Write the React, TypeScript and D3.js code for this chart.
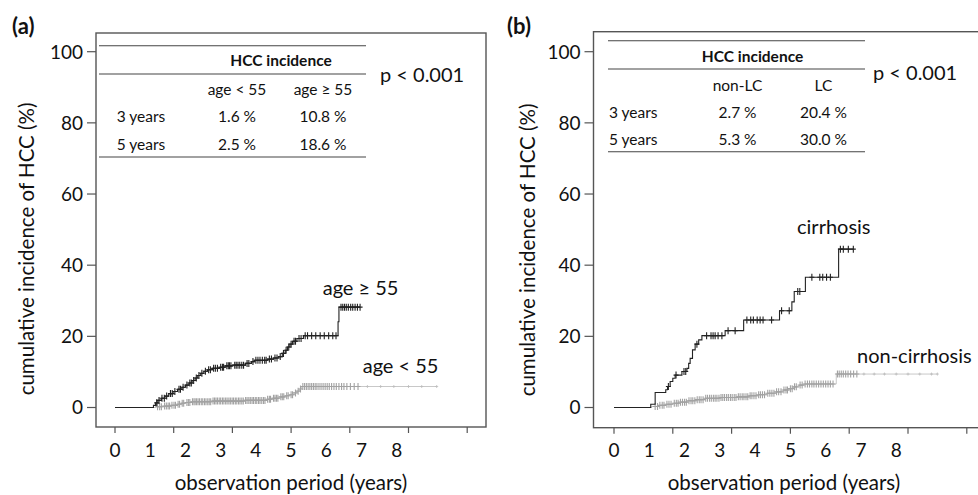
import React from 'react';
import * as d3 from 'd3';

// ---------- data ----------
const yearLabels = [0, 1, 2, 3, 4, 5, 6, 7, 8]; // years, placed at month 12*k
const monthTicks = [0, 20, 40, 60, 80, 100, 120];
const yTicks = [0, 20, 40, 60, 80, 100];

// Kaplan-Meier steps [month, cumulative %]
const ageOldSteps: [number, number][] = [
  [13.1, 0.6], [13.8, 1.3], [14.6, 2.0], [15.8, 2.6], [17.0, 3.2], [18.3, 3.9], [19.8, 4.5],
  [21.3, 5.1], [22.8, 5.7], [24.0, 6.3], [25.2, 6.9], [26.3, 7.6], [27.3, 8.3], [28.2, 9.0],
  [29.2, 9.6], [30.3, 10.2], [31.5, 10.6], [33.2, 11.0], [35.5, 11.3], [37.5, 11.7], [40.0, 11.9],
  [44.5, 12.4], [46.5, 12.9], [47.5, 13.3], [52.0, 13.6], [54.0, 13.9], [55.8, 14.3], [57.0, 15.2],
  [58.0, 16.1], [58.8, 17.0], [59.6, 17.8], [60.5, 18.6], [62.0, 19.4], [64.2, 20.2], [76.0, 24.1],
  [76.3, 28.2],
];
const ageOldEnd = 83.5;
const ageOldCensor = [
  14.2, 15.0, 16.0, 16.8, 17.6, 18.9, 19.5, 20.4, 21.8, 22.3, 23.2, 24.5, 25.5, 26.0, 26.8, 27.7,
  28.6, 29.6, 30.8, 31.9, 32.5, 33.6, 34.2, 34.9, 36.0, 36.6, 37.0, 38.1, 38.6, 39.0, 39.5, 40.8,
  41.3, 41.9, 42.5, 43.2, 43.8, 45.0, 45.6, 47.0, 48.0, 48.7, 49.4, 50.2, 51.0, 51.5, 52.6, 53.3,
  54.5, 55.2, 56.3, 57.4, 58.3, 59.2, 60.0, 61.0, 61.5, 62.7, 63.4, 64.8, 65.6, 67.0, 68.4, 69.9,
  71.3, 72.8, 74.2, 75.3, 77.0, 77.6, 78.2, 78.8, 79.5, 80.3, 81.0, 81.8, 82.6, 83.5,
];

const ageYoungSteps: [number, number][] = [
  [14.0, 0.2], [16.5, 0.4], [19.0, 0.6], [21.0, 0.9], [22.5, 1.2], [24.0, 1.4], [26.0, 1.6],
  [33.0, 1.8], [44.0, 2.0], [51.5, 2.3], [53.5, 2.6], [56.0, 3.0], [58.0, 3.3], [59.5, 3.6],
  [61.0, 4.1], [62.0, 4.6], [62.8, 5.2], [63.6, 5.9],
];
const ageYoungEnd = 109.6;
const ageYoungCensor = [
  14.5, 15.2, 15.8, 16.9, 17.5, 18.1, 18.6, 19.4, 20.1, 20.6, 21.5, 22.0, 22.9, 23.4, 24.5, 25.0,
  25.5, 26.4, 26.9, 27.3, 27.8, 28.3, 28.8, 29.4, 29.9, 30.5, 31.0, 31.6, 32.1, 32.6, 33.4, 33.9,
  34.4, 34.9, 35.5, 36.0, 36.6, 37.1, 37.7, 38.2, 38.8, 39.3, 39.9, 40.4, 41.0, 41.5, 42.1, 42.6,
  43.2, 43.7, 44.5, 45.0, 45.6, 46.1, 46.7, 47.2, 47.8, 48.3, 48.9, 49.4, 50.0, 50.6, 51.1, 52.0,
  52.6, 53.0, 54.0, 54.5, 55.0, 55.5, 56.5, 57.0, 57.5, 58.5, 59.0, 60.0, 60.5, 61.5, 62.4, 63.2,
  64.0, 64.6, 65.2, 65.8, 66.4, 67.0, 67.6, 68.2, 68.8, 69.5, 70.2, 70.9, 71.6, 72.3, 73.0, 73.8,
  74.6, 75.4, 76.3, 77.2, 78.0, 79.0, 80.2, 81.5, 82.8,
];
const ageYoungSparse = [86.0, 90.5, 95.0, 100.0, 104.5, 109.6];

const cirrhosisSteps: [number, number][] = [
  [12.5, 0.9], [14.0, 4.2], [17.6, 5.0], [18.2, 5.9], [19.1, 7.3], [20.0, 8.2], [20.8, 9.1],
  [23.1, 10.1], [24.8, 11.0], [25.4, 12.4], [25.9, 13.8], [26.7, 16.2], [27.6, 17.8], [28.8, 19.0],
  [29.9, 20.2], [37.8, 21.6], [44.1, 24.6], [56.3, 27.2], [60.5, 29.7], [61.3, 32.6], [65.1, 36.6],
  [76.4, 44.5],
];
const cirrhosisEnd = 81.5;
const cirrhosisCensor = [
  18.5, 21.1, 23.8, 24.4, 28.2, 31.5, 33.0, 33.7, 34.4, 35.4, 36.7, 38.8, 41.2, 45.2, 46.5, 47.4,
  48.7, 49.7, 50.7, 53.6, 57.0, 59.6, 62.5, 63.2, 67.3, 70.0, 71.0, 72.3, 73.6, 77.0, 78.0, 79.7,
  81.4,
];

const nonCirrhosisSteps: [number, number][] = [
  [12.8, 0.3], [15.0, 0.6], [17.5, 0.9], [20.0, 1.2], [22.5, 1.5], [25.0, 1.9], [28.0, 2.2],
  [31.0, 2.6], [36.0, 2.8], [42.0, 3.0], [46.0, 3.3], [49.0, 3.6], [52.0, 4.0], [55.0, 4.4],
  [57.5, 4.9], [59.5, 5.3], [61.0, 5.8], [63.0, 6.3], [64.5, 6.6], [75.6, 9.4],
];
const nonCirrhosisEnd = 110;
const nonCirrhosisCensor = [
  14.0, 14.8, 15.6, 16.4, 17.0, 18.0, 18.7, 19.4, 20.5, 21.2, 21.8, 22.6, 23.3, 24.0, 24.6, 25.5,
  26.2, 26.8, 27.5, 28.3, 29.0, 29.6, 30.3, 31.2, 31.8, 32.5, 33.1, 33.8, 34.4, 35.0, 35.7, 36.4,
  37.0, 37.6, 38.3, 38.9, 39.6, 40.2, 40.9, 41.5, 42.3, 42.9, 43.6, 44.2, 44.9, 45.5, 46.3, 46.9,
  47.6, 48.3, 49.2, 49.8, 50.5, 51.2, 52.3, 53.0, 53.7, 54.4, 55.3, 56.0, 56.8, 57.8, 58.5, 59.0,
  60.0, 60.6, 61.4, 62.0, 63.3, 64.0, 65.0, 65.8, 66.5, 67.3, 68.0, 68.8, 69.6, 70.4, 71.2, 72.0,
  72.8, 73.6, 74.5, 76.0, 76.6, 77.3, 78.0, 78.8, 79.6, 80.5, 81.5, 82.6,
];
const nonCirrhosisSparse = [85.0, 88.5, 92.0, 96.0, 100.0, 104.0, 108.0, 110.0];

const tableRows = ['3 years', '5 years'];
const tableColsA = ['age < 55', 'age \u2265 55'];
const tableValsA = [['1.6 %', '10.8 %'], ['2.5 %', '18.6 %']];
const tableColsB = ['non-LC', 'LC'];
const tableValsB = [['2.7 %', '20.4 %'], ['5.3 %', '30.0 %']];

// ---------- drawing ----------
const FONT = "Lato, 'Open Sans', sans-serif";
const yScale = d3.scaleLinear().domain([0, 100]).range([407.5, 51.7]);

function valueAt(steps: [number, number][], t: number) {
  let v = 0;
  for (const [m, val] of steps) if (m <= t) v = val;
  return v;
}

function Marks({ x, steps, times, color, hw, hh, sw }: any) {
  return (
    <g>
      {times.map((t: number, i: number) => {
        const cx = x(t);
        const cy = yScale(valueAt(steps, t));
        return (
          <path
            key={i}
            d={`M${cx - hw},${cy}H${cx + hw}M${cx},${cy - hh}V${cy + hh}`}
            stroke={color}
            strokeWidth={sw}
          />
        );
      })}
    </g>
  );
}

function Curve({ x, steps, end, line, lw }: any) {
  const pts: [number, number][] = [[0, 0], ...steps, [end, steps[steps.length - 1][1]]];
  const path = d3
    .line<[number, number]>()
    .x((d) => x(d[0]))
    .y((d) => yScale(d[1]))
    .curve(d3.curveStepAfter)(pts) as string;
  return <path d={path} fill="none" stroke={line} strokeWidth={lw} />;
}

function Panel({ p }: any) {
  const x = d3.scaleLinear().domain([0, 120]).range(p.xr);
  const bottom = p.box.y + p.box.h;
  return (
    <g fontFamily={FONT} fill="#111">
      <text x={p.label[0]} y={p.label[1]} fontSize={22} fontWeight="bold">{p.name}</text>
      <rect x={p.box.x} y={p.box.y} width={p.box.w} height={p.box.h} fill="none" stroke="#555" strokeWidth={1.4} />
      {monthTicks.map((m) => (
        <line key={m} x1={x(m)} x2={x(m)} y1={bottom} y2={bottom + 6} stroke="#555" strokeWidth={1.2} />
      ))}
      {yearLabels.map((yr) => (
        <text key={yr} x={x(yr * 12)} y={457} fontSize={19} textAnchor="middle">{yr}</text>
      ))}
      {yTicks.map((v) => (
        <g key={v}>
          <line x1={p.box.x - 9} x2={p.box.x} y1={yScale(v)} y2={yScale(v)} stroke="#555" strokeWidth={1.2} />
          <text x={p.box.x - 13} y={yScale(v)} dy="0.36em" fontSize={19} textAnchor="end">{v}</text>
        </g>
      ))}
      <text x={p.xTitle} y={490} fontSize={20.5} textAnchor="middle">observation period (years)</text>
      <text transform={`translate(${p.yTitle[0]},${p.yTitle[1]}) rotate(-90)`} fontSize={20.5} textAnchor="middle" dy="0.35em">
        cumulative incidence of HCC (%)
      </text>
      {/* table */}
      {p.t.lines.map((ly: number, i: number) => (
        <line key={i} x1={p.t.x0} x2={p.t.x1} y1={ly} y2={ly} stroke="#444" strokeWidth={1.1} />
      ))}
      <text x={p.t.titleX} y={p.t.titleY} fontSize={15.5} fontWeight="bold" textAnchor="middle">HCC incidence</text>
      {p.cols.map((c: string, i: number) => (
        <text key={c} x={p.t.colX[i]} y={p.t.headY} fontSize={15.5} textAnchor="middle">{c}</text>
      ))}
      {tableRows.map((r, ri) => (
        <g key={r}>
          <text x={p.t.rowX} y={p.t.rowY[ri]} fontSize={15.5}>{r}</text>
          {p.vals[ri].map((v: string, ci: number) => (
            <text key={ci} x={p.t.colX[ci]} y={p.t.rowY[ri]} fontSize={15.5} textAnchor="middle">{v}</text>
          ))}
        </g>
      ))}
      <text x={p.pval[0]} y={p.pval[1]} fontSize={20}>p &lt; 0.001</text>
      {/* curves */}
      <Curve x={x} steps={p.lo.steps} end={p.lo.end} line="#c8c8c8" lw={1} />
      <Marks x={x} steps={p.lo.steps} times={p.lo.censor} color="#a2a2a2" hw={2.5} hh={3.5} sw={1.1} />
      <Marks x={x} steps={p.lo.steps} times={p.lo.sparse} color="#bdbdbd" hw={1.5} hh={1.5} sw={0.8} />
      <Curve x={x} steps={p.hi.steps} end={p.hi.end} line="#222" lw={1.1} />
      <Marks x={x} steps={p.hi.steps} times={p.hi.censor} color="#222" hw={2.5} hh={3.5} sw={1.1} />
      <text x={p.hiLabel[0]} y={p.hiLabel[1]} fontSize={20}>{p.hi.name}</text>
      <text x={p.loLabel[0]} y={p.loLabel[1]} fontSize={20}>{p.lo.name}</text>
    </g>
  );
}

const panelA = {
  name: '(a)',
  label: [12, 34],
  box: { x: 96, y: 33, w: 390, h: 394 },
  xr: [115, 467.2],
  xTitle: 291,
  yTitle: [27, 249],
  t: { x0: 99, x1: 366, lines: [45.7, 74, 157], titleX: 281, titleY: 66, colX: [237, 323], headY: 94.5, rowX: 116.7, rowY: [122, 149.5] },
  cols: tableColsA,
  vals: tableValsA,
  pval: [380, 82],
  hi: { name: 'age \u2265 55', steps: ageOldSteps, end: ageOldEnd, censor: ageOldCensor },
  lo: { name: 'age < 55', steps: ageYoungSteps, end: ageYoungEnd, censor: ageYoungCensor, sparse: ageYoungSparse },
  hiLabel: [322.7, 295],
  loLabel: [362.7, 373],
};

const panelB = {
  name: '(b)',
  label: [507, 34],
  box: { x: 593.5, y: 31.7, w: 392, h: 396 },
  xr: [614, 966.8],
  xTitle: 784,
  yTitle: [528, 250],
  t: { x0: 608, x1: 865, lines: [40.7, 69, 151.7], titleX: 752.5, titleY: 61.5, colX: [737.5, 823.5], headY: 90.5, rowX: 609, rowY: [117.5, 144.5] },
  cols: tableColsB,
  vals: tableValsB,
  pval: [873, 80],
  hi: { name: 'cirrhosis', steps: cirrhosisSteps, end: cirrhosisEnd, censor: cirrhosisCensor },
  lo: { name: 'non-cirrhosis', steps: nonCirrhosisSteps, end: nonCirrhosisEnd, censor: nonCirrhosisCensor, sparse: nonCirrhosisSparse },
  hiLabel: [797, 234],
  loLabel: [857, 363],
};

export default function App() {
  return (
    <svg
      width={978}
      height={495}
      viewBox="0 0 978 495"
      style={{ position: 'absolute', left: 0, top: 0, display: 'block', background: '#fff' }}
    >
      <rect x={0} y={0} width={978} height={495} fill="#fff" />
      <Panel p={panelA} />
      <Panel p={panelB} />
    </svg>
  );
}
